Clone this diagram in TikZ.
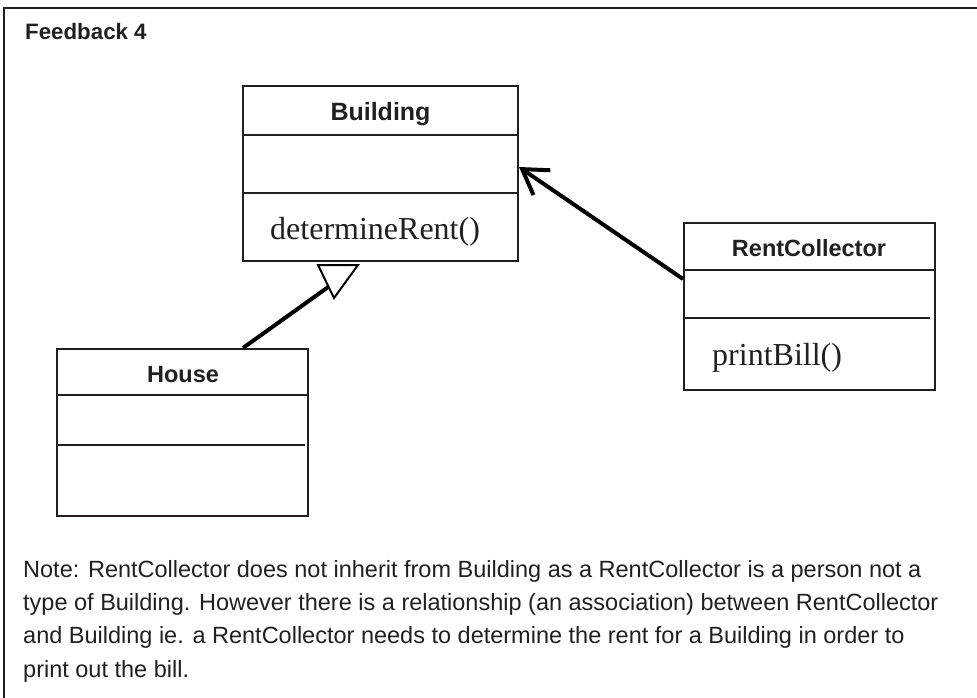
\documentclass[tikz,border=0pt]{standalone}
\usepackage{fontspec}
\setmainfont{Liberation Serif}
\newfontfamily\hsans{Liberation Sans}
\usetikzlibrary{arrows.meta,calc}
\definecolor{ink}{RGB}{35,31,32}
\begin{document}
\begin{tikzpicture}[x=1pt,y=-1pt,
  classbox/.style={draw=ink,line width=2pt,inner sep=0pt},
  divider/.style={draw=ink,line width=1.6pt},
  classtitle/.style={anchor=base,inner sep=0pt,text=ink,font=\hsans\bfseries\fontsize{23.5}{28}\selectfont},
  method/.style={anchor=base west,inner sep=0pt,text=ink,font=\fontsize{32}{38}\selectfont},
  notetext/.style={anchor=base west,inner sep=0pt,text=ink,font=\hsans\fontsize{23.5}{28}\selectfont},
  conn/.style={draw=black,line width=4pt},
]
\useasboundingbox (0,0) rectangle (977,697);
% outer frame (runs off the right and bottom edges)
\draw[ink,line width=2pt] (4,8) rectangle (1000,720);
\node[anchor=base west,inner sep=0pt,text=ink,font=\hsans\bfseries\fontsize{22.3}{27}\selectfont] (head) at (25,39) {Feedback 4};

% Building
\node[classbox,minimum width=275pt,minimum height=175pt] (building) at (380.5,173.5) {};
\draw[divider] (243,135) -- (518,135);
\draw[divider] (243,193) -- (518,193);
\node[classtitle,font=\hsans\bfseries\fontsize{25}{30}\selectfont] (bname) at (380.5,120) {Building};
\node[method] (bop) at (270,239) {determineRent()};

% House
\node[classbox,minimum width=251pt,minimum height=167pt] (house) at (182.5,432.5) {};
\draw[divider] (57,395) -- (308,395);
\draw[divider] (57,445) -- (305,445);
\node[classtitle] (hname) at (183,382) {House};

% RentCollector
\node[classbox,minimum width=251pt,minimum height=167pt] (rc) at (809.5,306.5) {};
\draw[divider] (684,270) -- (935,270);
\draw[divider] (684,318) -- (930,318);
\node[classtitle] (rname) at (809,256) {RentCollector};
\node[method] (rop) at (712,365) {printBill()};

% association RentCollector -> Building
\draw[conn,-{Straight Barb[length=24pt,width=30pt,line width=4pt]}]
  ([yshift=27.5pt]rc.west) -- ([yshift=6.5pt]building.east);

% inheritance House -> Building (hollow triangle)
\coordinate (t1) at (318,265);
\coordinate (t2) at (358,265);
\coordinate (t3) at (334,298);
\coordinate (tin) at (338,280);
\draw[conn] ([xshift=60.5pt]house.north) -- (tin);
\draw[black,line width=2pt,fill=white,line join=miter] (t1) -- (t2) -- (t3) -- cycle;

% note
\node[notetext] (n1) at (23,577) {Note: RentCollector does not inherit from Building as a RentCollector is a person not a};
\node[notetext] (n2) at (23,610) {type of Building. However there is a relationship (an association) between RentCollector};
\node[notetext] (n3) at (23,643) {and Building ie. a RentCollector needs to determine the rent for a Building in order to};
\node[notetext] (n4) at (23,677) {print out the bill.};
\end{tikzpicture}
\end{document}
